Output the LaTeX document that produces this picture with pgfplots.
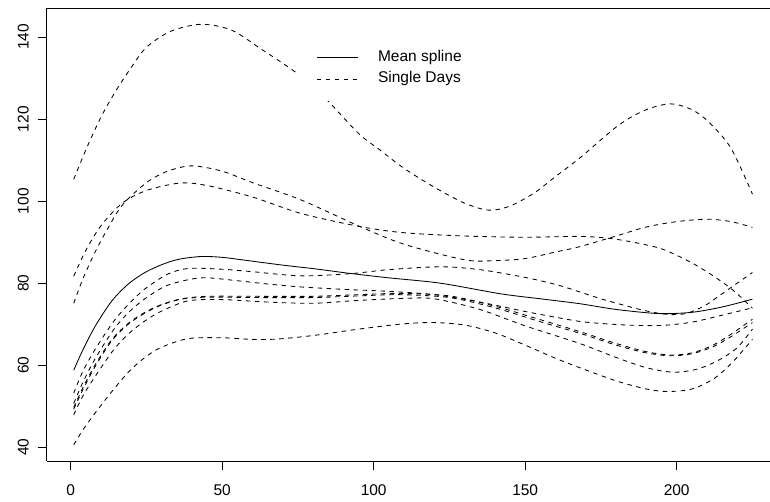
\documentclass[border=0pt]{standalone}
\usepackage{fontspec}
\setmainfont{Liberation Sans}
\usepackage{pgfplots}
\pgfplotsset{compat=1.18}
\begin{document}
\begin{tikzpicture}[x=1pt,y=1pt]
\useasboundingbox (-46.7,-40) rectangle (723.3,461);
\begin{axis}[
  at={(0,0)}, anchor=south west,
  scale only axis, width=723.3pt, height=452.7pt,
  xmin=-7.92, xmax=230.8, ymin=36.66, ymax=147.0,
  axis x line*=box, axis y line*=left,
  xtick={0,50,100,150,200}, ytick={40,60,80,100,120,140},
  xtick pos=left, ytick pos=left,
  tick align=outside, major tick length=9pt,
  axis line style={line width=0.8pt, black},
  every tick/.style={line width=0.8pt, black},
  /pgf/number format/assume math mode=true,
  tick label style={font=\fontsize{15.5}{18}\selectfont},
  yticklabel style={rotate=90, anchor=base, yshift=9pt},
  xticklabel style={anchor=north},
  xticklabel shift=11pt,
  every axis plot/.append style={line width=0.85pt, black, smooth, mark=none},
  legend style={draw=none, fill=white, at={(0.3461,0.9388)}, anchor=north west,
    inner xsep=19pt, inner ysep=12pt, row sep=2.7pt, column sep=18pt,
    font=\fontsize{15.5}{18}\selectfont,
    nodes={inner sep=2pt, text height=11pt, text depth=4pt}},
  legend cell align=left,
  legend image code/.code={\draw[#1] (0pt,0pt) -- (41pt,0pt);},
]
% mean spline
\addplot[black, solid, mark=none] coordinates {(1,58.8)(4,63.7)(8,69.4)(13.5,75.6)(19,79.8)(24.5,82.6)(30,84.5)(35.5,85.8)(43,86.5)(50,86.3)(57.5,85.6)(70,84.4)(80.6,83.5)(92,82.4)(105,81.3)(122,80.0)(142,77.4)(155,76.2)(168,75.0)(180,73.6)(194,72.6)(205,72.9)(215,74.2)(225,76.1)};
\addlegendentry{Mean spline}
% A
\addplot[dash pattern=on 4.5pt off 4.5pt] coordinates {(1,105.3)(5,112.5)(10,120.5)(15,127)(20,132.6)(25,137.5)(33,141.4)(43,143.1)(53,141.7)(63,137)(75,131)(84,125.1)(95,116.5)(102,112.5)(110,108)(120,103.4)(130,99.5)(138,97.8)(145,98.8)(153,102)(160,106)(168,110.5)(181,118.6)(190,122.3)(198,123.7)(205,122.3)(211,119)(218,112.8)(225,101.7)};
\addlegendentry{Single Days}
% P
\addplot[dash pattern=on 4.5pt off 4.5pt, forget plot] coordinates {(1,75.1)(4,81)(8,87.5)(12,93)(17,99)(25,104.5)(32,107.3)(40,108.6)(50,107.3)(60,104.5)(76,100.3)(95.5,93.8)(110,89.5)(130,85.7)(140,85.5)(150,86)(160,87.6)(168,88.9)(180,91.5)(190,93.7)(200,95.0)(210,95.6)(218,95)(225,93.6)};
% Q
\addplot[dash pattern=on 4.5pt off 4.5pt, forget plot] coordinates {(1,81.7)(5,88)(10,94)(17,99.5)(25,102.6)(36,104.4)(45,103.8)(60,101)(76,97)(95.5,93.8)(110,92.3)(130,91.5)(150,91.2)(168,91.4)(178,90.9)(187,89.8)(194.5,88.5)(200,86.8)(205.4,84.8)(212,81.8)(218.6,78.3)(225,73.9)};
% D
\addplot[dash pattern=on 4.5pt off 4.5pt, forget plot] coordinates {(1,53.2)(4,58.5)(8,63.8)(14,70.5)(19,74.8)(24.5,78.6)(32,82.2)(39,83.6)(50,83.4)(60,82.8)(75.7,81.8)(92,82.3)(105,83.3)(122,84.0)(135,83.3)(150,81.4)(161.5,79.4)(175,76.2)(189,73.4)(197,72.4)(203,72.6)(209,74.4)(214,76.9)(219,79.5)(225,82.6)};
% E
\addplot[dash pattern=on 4.5pt off 4.5pt, forget plot] coordinates {(1,50.7)(4,55.8)(8,61.5)(14,68.5)(19,72.8)(24.5,76.2)(32,79.5)(43,81.3)(55,80.6)(65,79.8)(75.7,79.1)(90,78.5)(105,78.0)(120,77.2)(135,75.4)(150,73.1)(161.5,71.5)(170,70.5)(183.5,69.8)(195,69.7)(205,70.5)(215,72.2)(225,74.0)};
% pair 1
\addplot[dash pattern=on 4.5pt off 4.5pt, forget plot] coordinates {(1,49.7)(4,54.5)(8,60.0)(13.5,66.2)(19,70.2)(24.5,72.9)(30,74.8)(36.6,76.2)(45,76.8)(60,76.8)(80,76.8)(95,77.2)(108.7,77.5)(125,76.9)(140,74.4)(155,71.1)(168,68.2)(180,65.3)(190,63.3)(198,62.5)(205,63.0)(212,64.9)(218,67.6)(225,71.2)};
% pair 2
\addplot[dash pattern=on 4.5pt off 4.5pt, forget plot] coordinates {(1,49.3)(4,54.0)(8,59.6)(13.5,65.9)(19,70.0)(24.5,72.7)(30,74.7)(36.6,76.1)(45,76.6)(60,76.5)(80,76.5)(95,76.9)(108.7,77.2)(125,76.5)(140,74.0)(155,70.6)(168,67.8)(180,64.9)(190,63.0)(198,62.3)(205,62.8)(212,64.5)(218,67.0)(225,70.4)};
% G
\addplot[dash pattern=on 4.5pt off 4.5pt, forget plot] coordinates {(1,47.9)(4,52.5)(8,57.2)(14,63.6)(19,67.6)(24.5,70.8)(30,73.2)(38.8,75.7)(50,76.0)(65,75.4)(80,75.1)(95,75.8)(110,76.3)(120,76.2)(135,73.6)(150,69.6)(168,65.3)(180,61.9)(190,59.4)(199,58.3)(207,59.1)(214,61.3)(220,64.3)(225,68.8)};
% H
\addplot[dash pattern=on 4.5pt off 4.5pt, forget plot] coordinates {(1,40.6)(4,44.2)(8,48.3)(13.5,53.5)(19,58.3)(24.5,61.9)(30,64.4)(38.8,66.5)(50,66.7)(60,66.3)(68.5,66.4)(80.6,67.3)(95,68.8)(110,70.1)(120,70.4)(130,69.8)(140,67.9)(150,64.9)(160,61.7)(168,59.4)(180,56.2)(190,54.2)(197,53.6)(205,54.2)(212,56.6)(218,60.4)(225,66.3)};
\end{axis}
\end{tikzpicture}
\end{document}
